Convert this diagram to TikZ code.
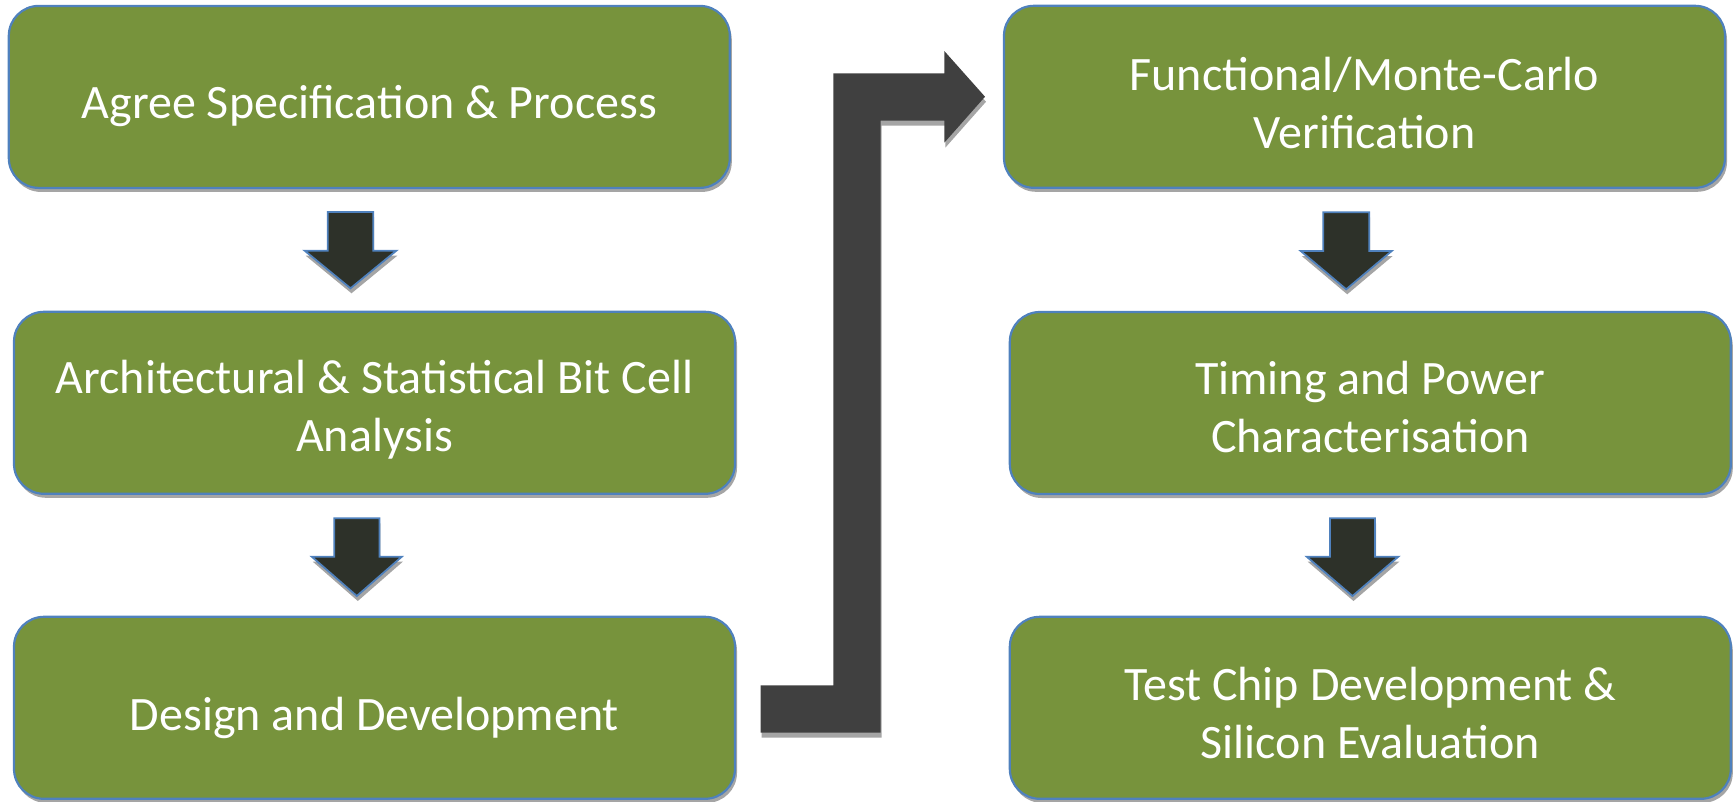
\documentclass[tikz,border=0pt]{standalone}
\usepackage{fontspec}
\setmainfont{Carlito}
\usetikzlibrary{shadows}
\definecolor{boxgreen}{HTML}{77933C}
\definecolor{boxblue}{HTML}{4F81BD}
\definecolor{arrdark}{HTML}{2D3129}
\definecolor{elbowgray}{HTML}{404040}
\definecolor{shadowgray}{HTML}{A5A5A5}
\tikzset{
  stepbox/.style={draw=boxblue, line width=2.2pt, fill=boxgreen, rounded corners=30pt,
    minimum width=721pt, minimum height=182pt, inner sep=0pt,
    drop shadow={shadow xshift=2pt, shadow yshift=-4pt, fill=shadowgray, opacity=1}},
  steptext/.style={text=white, align=center, font=\fontsize{48}{58}\selectfont, inner sep=0pt},
  downarr/.style={draw=boxblue, line width=1.8pt, fill=arrdark, line join=miter,
    drop shadow={shadow xshift=1pt, shadow yshift=-5pt, fill=shadowgray, opacity=1}},
  elbowarr/.style={fill=elbowgray,
    drop shadow={shadow xshift=1pt, shadow yshift=-5pt, fill=shadowgray, opacity=1}}
}
\newcommand\mydownarrow[6]{% cx, shaft half, head half, top, base, tip
  \draw[downarr] (#1-#2,#4) -- (#1+#2,#4) -- (#1+#2,#5) -- (#1+#3,#5) -- (#1,#6)
    -- (#1-#3,#5) -- (#1-#2,#5) -- cycle;}
\begin{document}
\begin{tikzpicture}[x=1pt,y=-1pt]
\useasboundingbox (0,0) rectangle (1734,801);
% boxes
\node[stepbox] (b1) at (369.3,96.9) {};
\node[stepbox] (b2) at (374.5,402.8) {};
\node[stepbox] (b3) at (374.5,707.8) {};
\node[stepbox] (b4) at (1364.5,96.8) {};
\node[stepbox] (b5) at (1370.3,403) {};
\node[stepbox] (b6) at (1370.3,707.8) {};
% texts
\node[steptext] (t1) at ([yshift=-9pt]b1.center) {Agree Specification \& Process};
\node[steptext] (t2) at ([yshift=-7pt]b2.center) {Architectural \& Statistical Bit Cell\\Analysis};
\node[steptext] (t3) at ([yshift=-10pt]b3.center) {Design and Development};
\node[steptext] (t4) at ([yshift=-6pt]b4.center) {Functional/Monte-Carlo\\Verification};
\node[steptext] (t5) at ([yshift=-4pt]b5.center) {Timing and Power\\Characterisation};
\node[steptext] (t6) at ([yshift=-5pt]b6.center) {Test Chip Development \&\\Silicon Evaluation};
% down arrows
\mydownarrow{350.5}{22.7}{45.8}{212}{250.7}{288.3}
\mydownarrow{356.8}{22.6}{45}{518.3}{556.7}{596}
\mydownarrow{1346.2}{23}{45.5}{212.3}{251}{289.3}
\mydownarrow{1352.5}{22.5}{45.8}{518.3}{556.7}{596}
% elbow arrow
\fill[elbowarr] (760.7,685.3) -- (833.3,685.3) -- (833.3,73.3) -- (944.3,73.3)
  -- (944.3,51) -- (985,96.7) -- (944.3,142.7) -- (944.3,120.7) -- (880.7,120.7)
  -- (880.7,732.7) -- (760.7,732.7) -- cycle;
\end{tikzpicture}
\end{document}
